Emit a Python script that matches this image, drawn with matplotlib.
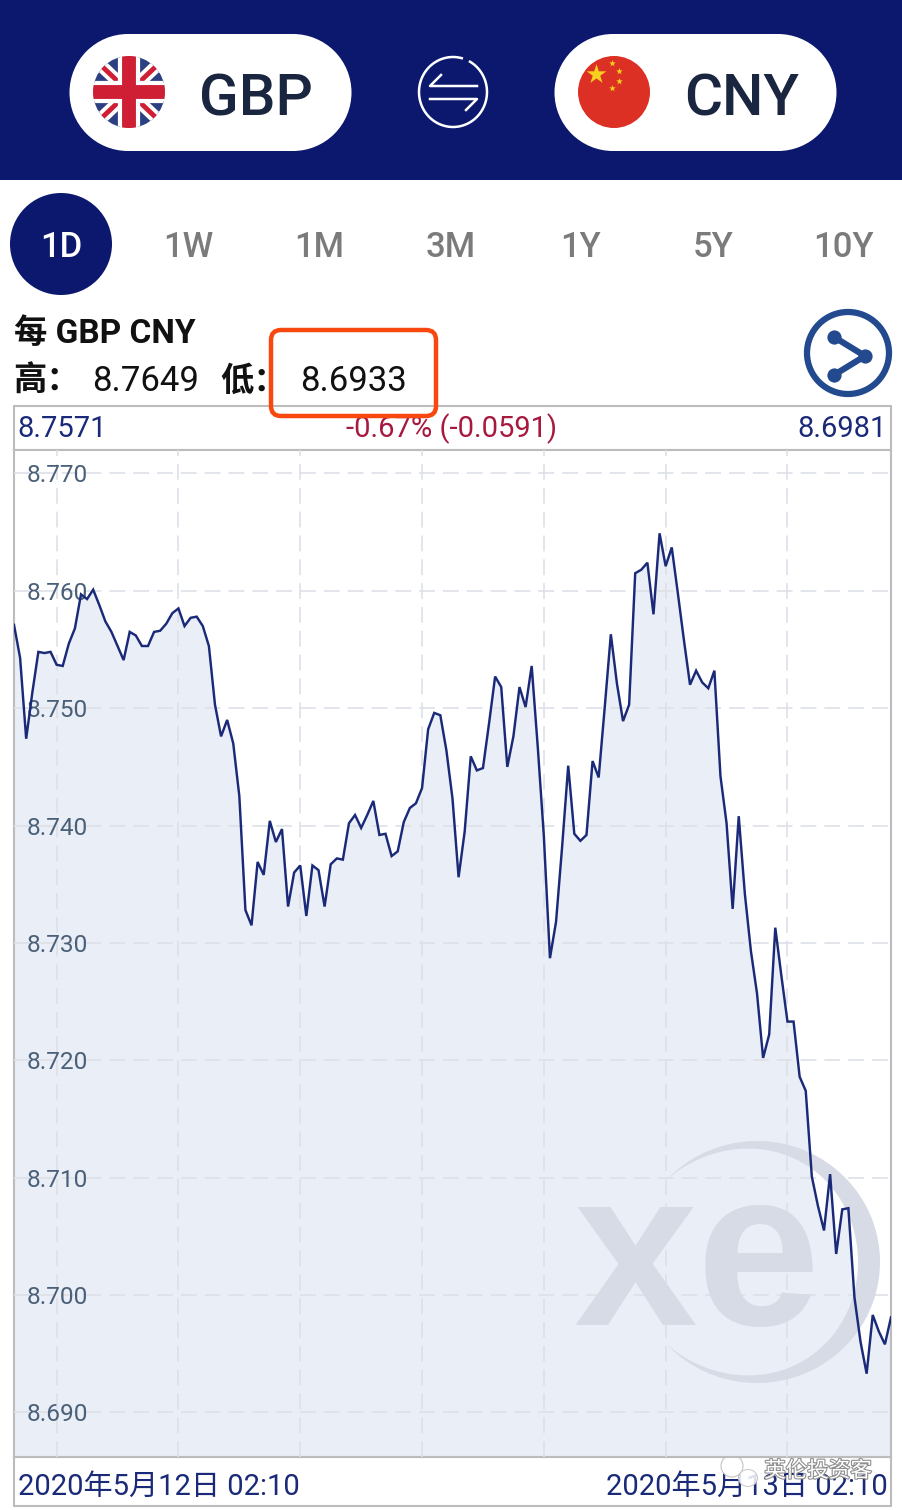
import numpy as np
import pandas as pd
import matplotlib
matplotlib.use("Agg")
import matplotlib.pyplot as plt
import matplotlib.patheffects as pe
from matplotlib.patches import Circle, Ellipse, FancyBboxPatch, Rectangle, Polygon

plt.rcParams['font.family'] = ['Roboto', 'Noto Sans CJK SC', 'DejaVu Sans']

rates = [
    8.7571, 8.7543, 8.7474, 8.7513, 8.7548, 8.7547, 8.7548, 8.7537, 8.7536, 8.7555,
    8.7568, 8.7597, 8.7593, 8.7601, 8.7588, 8.7574, 8.7565, 8.7553, 8.7541, 8.7565,
    8.7562, 8.7553, 8.7553, 8.7565, 8.7566, 8.7572, 8.7581, 8.7585, 8.7570, 8.7577,
    8.7578, 8.7570, 8.7553, 8.7503, 8.7476, 8.7490, 8.7470, 8.7425, 8.7328, 8.7315,
    8.7369, 8.7358, 8.7404, 8.7386, 8.7397, 8.7331, 8.7360, 8.7366, 8.7323, 8.7366,
    8.7362, 8.7331, 8.7367, 8.7372, 8.7371, 8.7402, 8.7409, 8.7398, 8.7409, 8.7421,
    8.7392, 8.7393, 8.7374, 8.7378, 8.7403, 8.7415, 8.7419, 8.7432, 8.7482, 8.7496,
    8.7494, 8.7464, 8.7423, 8.7356, 8.7395, 8.7459, 8.7447, 8.7449, 8.7487, 8.7527,
    8.7518, 8.7450, 8.7476, 8.7518, 8.7501, 8.7536, 8.7467, 8.7391, 8.7287, 8.7318,
    8.7382, 8.7451, 8.7393, 8.7387, 8.7392, 8.7455, 8.7441, 8.7501, 8.7563, 8.7521,
    8.7489, 8.7503, 8.7615, 8.7618, 8.7624, 8.7580, 8.7649, 8.7621, 8.7637, 8.7598,
    8.7558, 8.7520, 8.7532, 8.7522, 8.7517, 8.7532, 8.7442, 8.7402, 8.7329, 8.7408,
    8.7342, 8.7293, 8.7257, 8.7202, 8.7222, 8.7313, 8.7272, 8.7233, 8.7233, 8.7186,
    8.7174, 8.7101, 8.7076, 8.7055, 8.7103, 8.7035, 8.7073, 8.7074, 8.6998, 8.6960,
    8.6933, 8.6983, 8.6969, 8.6958, 8.6981,
]
y_ticks = [8.770, 8.760, 8.750, 8.740, 8.730, 8.720, 8.710, 8.700, 8.690]
tabs = ['1D', '1W', '1M', '3M', '1Y', '5Y', '10Y']
tab_x = [61, 188, 319, 451, 581, 713, 844]

times = pd.date_range('2020-05-12 02:10', periods=len(rates), freq='10min')

NAVY = '#0b186e'
INK = '#1a2a78'
BORDER = '#bcbcbc'

W, H = 902, 1510
fig = plt.figure(figsize=(W / 100, H / 100), dpi=100, facecolor='white')

# page furniture is drawn in pixel coordinates
ui = fig.add_axes([0, 0, 1, 1], zorder=1)
ui.set_xlim(0, W)
ui.set_ylim(H, 0)
ui.axis('off')

ui.add_patch(Rectangle((0, 0), W, 180, fc=NAVY, ec='none'))
for x0 in (70, 555):
    ui.add_patch(Rectangle((x0 + 58, 34), 281 - 116, 117, fc='white', ec='none'))
    ui.add_patch(Ellipse((x0 + 58, 92.5), 117, 117, fc='white', ec='none'))
    ui.add_patch(Ellipse((x0 + 281 - 58, 92.5), 117, 117, fc='white', ec='none'))
ui.text(199, 116, 'GBP', fontsize=42, fontweight='medium', color='#1a2540', va='baseline')
ui.text(684, 116, 'CNY', fontsize=42, fontweight='medium', color='#1a2540', va='baseline')

# union flag
clip = Circle((129, 92), 36, transform=ui.transData)
ui.add_patch(Rectangle((90, 55), 78, 74, fc='#2b3f82', ec='none', clip_path=clip))
for lw, col in ((9, 'white'), (3.5, '#cf1f35')):
    for xs, ys in (((90, 168), (55, 129)), ((90, 168), (129, 55))):
        ln, = ui.plot(xs, ys, color=col, lw=lw, solid_capstyle='butt')
        ln.set_clip_path(clip)
for lw, col in ((16, 'white'), (10, '#cf1f35')):
    for xs, ys in (((90, 168), (92, 92)), ((129, 129), (55, 129))):
        ln, = ui.plot(xs, ys, color=col, lw=lw, solid_capstyle='butt')
        ln.set_clip_path(clip)

# china flag
ui.add_patch(Circle((614, 92), 36, fc='#dc3024', ec='none'))
ui.scatter([596], [74], marker='*', s=220, color='#f7d120', linewidths=0, zorder=3)
ui.scatter([612, 619, 619, 612], [63, 71, 81, 88], marker='*', s=26, color='#f7d120', linewidths=0, zorder=3)

# swap icon
th = np.radians(np.linspace(-60, 285, 100))
ui.plot(453 + 34 * np.cos(th), 92 + 35 * np.sin(th), color='white', lw=1.8)
ui.plot([477, 430, 441], [86, 86, 75], color='white', lw=1.8)
ui.plot([430, 477, 466], [99, 99, 110], color='white', lw=1.8)

# range tabs
ui.add_patch(Circle((61, 244), 51, fc=NAVY, ec='none'))
for lab, x in zip(tabs, tab_x):
    ui.text(x, 257, lab, fontsize=25, fontweight='medium', ha='center', va='baseline',
            color='white' if lab == '1D' else '#7b7b7b')

# summary text
ui.text(14, 343, '每 GBP CNY', fontsize=24, fontweight='bold', color='#111111', va='baseline')
ui.text(13, 391, '高：', fontsize=24, fontweight='bold', color='#111111', va='baseline')
ui.text(92, 391, '8.7649', fontsize=25, color='#111111', va='baseline')
ui.text(220, 391, '低：', fontsize=24, fontweight='bold', color='#111111', va='baseline')
ui.text(300, 391, '8.6933', fontsize=25, color='#111111', va='baseline')

# share button
ui.add_patch(Circle((848, 353), 41, fc='white', ec='#234a8f', lw=4.5))
ui.plot([834, 865, 834], [337, 356, 375], color='#234a8f', lw=4.5)
ui.scatter([834, 865, 834], [337, 356, 375], s=105, color='#234a8f', linewidths=0, zorder=3)

# bars above and below the chart
ui.add_patch(Rectangle((14, 406), 877, 44, fc='white', ec=BORDER, lw=1.5))
ui.text(17, 437, '8.7571', fontsize=21, color=INK, va='baseline')
ui.text(452, 437, '-0.67% (-0.0591)', fontsize=21, color='#a8193f', ha='center', va='baseline')
ui.text(887, 437, '8.6981', fontsize=21, color=INK, ha='right', va='baseline')
ui.add_patch(FancyBboxPatch((271, 330), 165, 86, boxstyle='round,pad=0,rounding_size=10',
                            fc='none', ec='#f8480f', lw=3.2, zorder=4))

ui.add_patch(Rectangle((14, 1457), 877, 49, fc='white', ec=BORDER, lw=1.5))
ui.text(18, 1495, '2020年5月12日 02:10', fontsize=21, color=INK, va='baseline')
ui.text(888, 1495, '2020年5月13日 02:10', fontsize=21, color=INK, ha='right', va='baseline')

# wechat mark sits over the date
halo = [pe.withStroke(linewidth=1.6, foreground='#8f8f8f')]
ui.add_patch(Ellipse((732, 1466), 22, 22, fc='white', ec='#c4c4c4', lw=0.8, zorder=6))
ui.add_patch(Ellipse((748, 1478), 19, 17, fc='white', ec='#c4c4c4', lw=0.8, alpha=0.85, zorder=6))
ui.text(818, 1477, '英伦投资客', fontsize=15.5, color='white', ha='center', va='baseline',
        path_effects=halo, zorder=7)

# the chart itself
ax = fig.add_axes([14 / W, 1 - 1457 / H, 877 / W, (1457 - 450) / H], zorder=2)
ax.set_facecolor('white')
ax.fill_between(times, rates, 8.68, color='#eaeef7', lw=0, zorder=1)
ax.plot(times, rates, color=INK, lw=1.75, zorder=4, solid_joinstyle='miter')
ax.set_xlim(times[0], times[-1])
ax.set_ylim(8.6862, 8.7720)

ax.set_xticks(times[7::20])
ax.set_yticks(y_ticks)
ax.set_yticklabels(['%.3f' % v for v in y_ticks], ha='left')
ax.tick_params(axis='x', length=0, labelbottom=False)
ax.tick_params(axis='y', length=0, pad=-13, labelsize=17.6, labelcolor='#4a6078')
for lab in ax.get_yticklabels():
    lab.set_x(-0.006)
    lab.set_zorder(5)
ax.grid(True, color='#dde0e7', lw=1.2, linestyle=(0, (9.5, 4.8)))
ax.set_axisbelow(False)
for gl in ax.get_xgridlines() + ax.get_ygridlines():
    gl.set_zorder(2)
for s in ax.spines.values():
    s.set_color(BORDER)
    s.set_linewidth(1.5)

# xe logo watermark, lower right of the chart
ax.text(0.6385, 0.1315, 'xe', transform=ax.transAxes, fontsize=160, fontweight='bold', family='Liberation Sans',
        color='#d7dbe5', ha='left', va='baseline', zorder=3)
th = np.radians(np.linspace(-137, 137, 120))
cx, cy, rx, ry = 757, 1262, 123, 121
w = 22 * np.cos(th / np.radians(137) * np.pi / 2)
ox, oy = cx + rx * np.cos(th), cy + ry * np.sin(th)
ix, iy = cx + (rx - w) * np.cos(th), cy + (ry - w * 0.7) * np.sin(th)
pts = np.r_[np.c_[ox, oy], np.c_[ix, iy][::-1]]
pts = (pts - [14, 1457]) / [877, -1007]
ax.add_patch(Polygon(pts, closed=True, transform=ax.transAxes, fc='#d7dbe5', ec='none', zorder=3))

fig.savefig('out.png', dpi=100)
